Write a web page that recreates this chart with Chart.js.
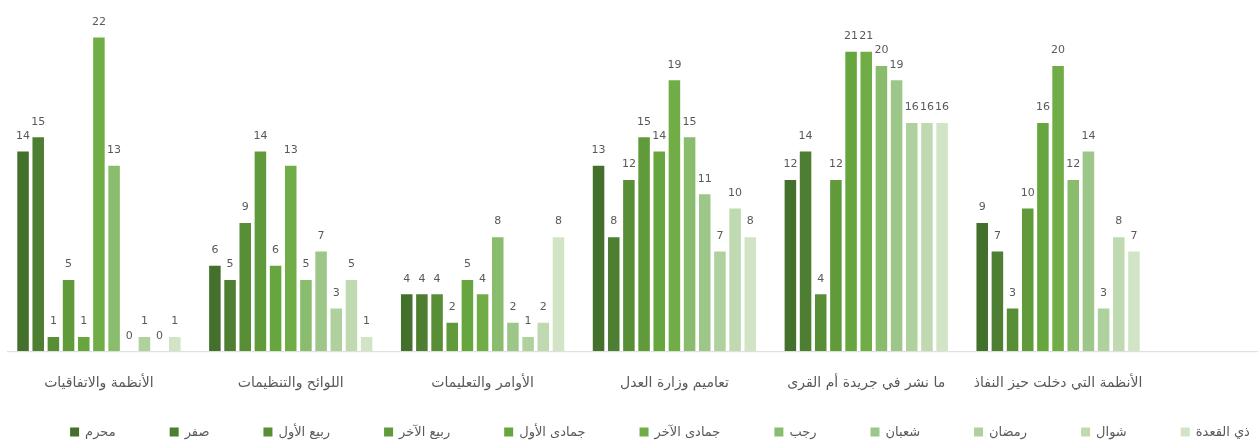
<!DOCTYPE html>
<html>
<head>
<meta charset="utf-8">
<script src="https://cdn.jsdelivr.net/npm/chart.js@4.4.1/dist/chart.umd.min.js"></script>
<style>
  html, body { margin: 0; padding: 0; background: #fff; }
  #wrap { width: 1258px; height: 443px; }
</style>
</head>
<body>
<div id="wrap"><canvas id="chart"></canvas></div>
<script>
// categories (left to right as in the picture)
const categories = [
    'الأنظمة والاتفاقيات',
    'اللوائح والتنظيمات',
    'الأوامر والتعليمات',
    'تعاميم وزارة العدل',
    'ما نشر في جريدة أم القرى',
    'الأنظمة التي دخلت حيز النفاذ'
];

// one list per month, values per category
const muharram    = [14, 6, 4, 13, 12, 9];
const safar       = [15, 5, 4, 8, 14, 7];
const rabi1       = [1, 9, 4, 12, 4, 3];
const rabi2       = [5, 14, 2, 15, 12, 10];
const jumada1     = [1, 6, 5, 14, 21, 16];
const jumada2     = [22, 13, 4, 19, 21, 20];
const rajab       = [13, 5, 8, 15, 20, 12];
const shaban      = [0, 7, 2, 11, 19, 14];
const ramadan     = [1, 3, 1, 7, 16, 3];
const shawwal     = [0, 5, 2, 10, 16, 8];
const dhulqadah   = [1, 1, 8, 8, 16, 7];

const monthNames = ['محرم', 'صفر', 'ربيع الأول', 'ربيع الآخر', 'جمادى الأول', 'جمادى الآخر', 'رجب', 'شعبان', 'رمضان', 'شوال', 'ذي القعدة'];
const monthValues = [muharram, safar, rabi1, rabi2, jumada1, jumada2, rajab, shaban, ramadan, shawwal, dhulqadah];
const monthColors = ['#43702b', '#4e7e31', '#588e36', '#609a3b', '#67a53f', '#70ad47', '#89bc6d', '#9dc789', '#aed19d', '#bfdab1', '#d1e4c6'];

const FONT = "'DejaVu Sans', 'Noto Sans', sans-serif";

// draws the value above each bar
const valueLabels = {
    id: 'valueLabels',
    afterDatasetsDraw(chart) {
        const ctx = chart.ctx;
        ctx.save();
        ctx.font = '11px ' + FONT;
        ctx.fillStyle = '#595959';
        ctx.textAlign = 'center';
        ctx.textBaseline = 'bottom';
        chart.data.datasets.forEach((ds, i) => {
            chart.getDatasetMeta(i).data.forEach((bar, j) => {
                ctx.fillText(ds.data[j], bar.x, bar.y - 10);
            });
        });
        ctx.restore();
    }
};

// axis line runs on to the right edge
const baseLine = {
    id: 'baseLine',
    afterDraw(chart) {
        const ctx = chart.ctx;
        const y = chart.scales.y.getPixelForValue(0) + 0.5;
        ctx.save();
        ctx.strokeStyle = '#d9d9d9';
        ctx.lineWidth = 1;
        ctx.beginPath();
        ctx.moveTo(chart.chartArea.left + 4, y);
        ctx.lineTo(chart.width, y);
        ctx.stroke();
        ctx.restore();
    }
};

// legend row at the bottom (wide spacing, so drawn here)
const bottomLegend = {
    id: 'bottomLegend',
    afterDraw(chart) {
        const ctx = chart.ctx;
        const gap = 54, box = 9, textGap = 6, y = 432;
        ctx.save();
        ctx.font = '13px ' + FONT;
        const items = chart.data.datasets.map(ds => ({
            text: ds.label, color: ds.backgroundColor, w: ctx.measureText(ds.label).width
        }));
        let total = items.reduce((s, it) => s + box + textGap + it.w, 0) + gap * (items.length - 1);
        let x = 660 - total / 2;
        ctx.textBaseline = 'middle';
        ctx.textAlign = 'left';
        items.forEach(it => {
            ctx.fillStyle = it.color;
            ctx.fillRect(x, y - box / 2, box, box);
            ctx.fillStyle = '#595959';
            ctx.fillText(it.text, x + box + textGap, y + 1);
            x += box + textGap + it.w + gap;
        });
        ctx.restore();
    }
};

new Chart(document.getElementById('chart'), {
    type: 'bar',
    data: {
        labels: categories,
        datasets: monthNames.map((name, i) => ({
            label: name,
            data: monthValues[i],
            backgroundColor: monthColors[i],
            categoryPercentage: 0.87,
            barPercentage: 0.76
        }))
    },
    options: {
        responsive: true,
        maintainAspectRatio: false,
        animation: false,
        layout: { padding: { left: 3, right: 104, top: 9, bottom: 35 } },
        plugins: {
            legend: { display: false },
            tooltip: { enabled: false }
        },
        scales: {
            x: {
                grid: { display: false },
                border: { display: false },
                ticks: {
                    color: '#595959',
                    font: { family: FONT, size: 14 },
                    padding: 16,
                    maxRotation: 0
                }
            },
            y: {
                display: false,
                min: 0,
                max: 24
            }
        }
    },
    plugins: [valueLabels, baseLine, bottomLegend]
});
</script>
</body>
</html>
